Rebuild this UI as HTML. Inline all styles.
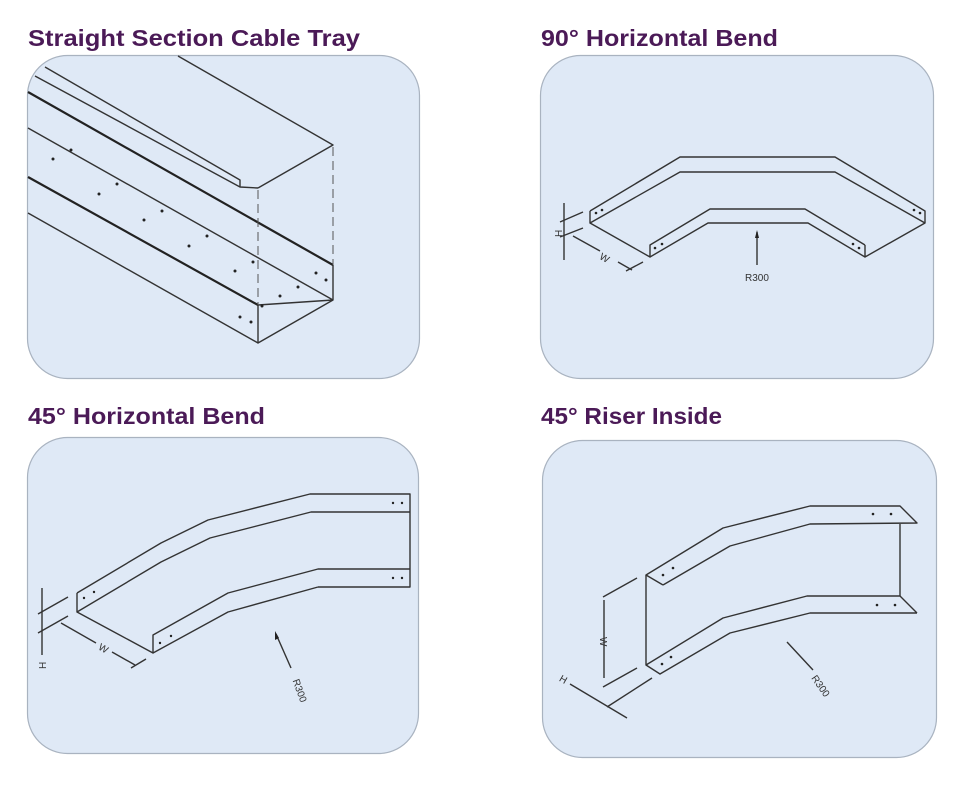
<!DOCTYPE html>
<html><head><meta charset="utf-8"><style>
html,body{margin:0;padding:0;background:#fff;}
svg{display:block;}
.t{font-family:"Liberation Sans",sans-serif;font-weight:bold;font-size:23px;fill:#4b1a57;}
.l{fill:none;stroke:#333;stroke-width:1.4;stroke-linejoin:round;}
.b{fill:none;stroke:#222;stroke-width:2.2;}
.d{fill:#222;}
.s{font-family:"Liberation Sans",sans-serif;font-size:10px;fill:#333;}
</style></head><body>
<svg width="975" height="798" viewBox="0 0 975 798">
<rect width="975" height="798" fill="#fff"/>
<g fill="#dfe9f6" stroke="#a9b3c0" stroke-width="1.2">
<rect x="27.5" y="55.5" width="392" height="323" rx="40"/>
<rect x="540.5" y="55.5" width="393" height="323" rx="40"/>
<rect x="27.5" y="437.5" width="391" height="316" rx="40"/>
<rect x="542.5" y="440.5" width="394" height="317" rx="40"/>
</g>
<text class="t" x="28" y="46" textLength="332" lengthAdjust="spacingAndGlyphs">Straight Section Cable Tray</text>
<text class="t" x="541" y="46" textLength="237" lengthAdjust="spacingAndGlyphs">90° Horizontal Bend</text>
<text class="t" x="28" y="424" textLength="237" lengthAdjust="spacingAndGlyphs">45° Horizontal Bend</text>
<text class="t" x="541" y="424" textLength="181" lengthAdjust="spacingAndGlyphs">45° Riser Inside</text>

<!-- Panel 1 -->
<polyline class="l" points="178,56 333,145 258,188"/>
<polyline class="l" points="45,67 240,180 240,187"/>
<polyline class="l" points="35,76 240,187 258,188"/>
<line class="b" x1="28" y1="92" x2="333" y2="265"/>
<line class="l" x1="28" y1="128" x2="333" y2="300"/>
<line class="b" x1="28" y1="177" x2="258" y2="305"/>
<line class="l" x1="28" y1="213" x2="258" y2="343"/>
<polyline class="l" points="258,305 258,343 333,300 333,265"/>
<line class="l" x1="258" y1="305" x2="333" y2="300"/>
<line x1="258" y1="190" x2="258" y2="305" stroke="#555" stroke-width="1" stroke-dasharray="9,5"/>
<line x1="333" y1="147" x2="333" y2="265" stroke="#555" stroke-width="1" stroke-dasharray="9,5"/>
<g class="d">
<circle cx="53" cy="159" r="1.5"/><circle cx="71" cy="150" r="1.5"/><circle cx="99" cy="194" r="1.5"/><circle cx="117" cy="184" r="1.5"/>
<circle cx="144" cy="220" r="1.5"/><circle cx="162" cy="211" r="1.5"/><circle cx="189" cy="246" r="1.5"/><circle cx="207" cy="236" r="1.5"/>
<circle cx="235" cy="271" r="1.5"/><circle cx="253" cy="262" r="1.5"/><circle cx="280" cy="296" r="1.5"/><circle cx="298" cy="287" r="1.5"/>
<circle cx="316" cy="273" r="1.5"/><circle cx="326" cy="280" r="1.5"/><circle cx="240" cy="317" r="1.5"/><circle cx="251" cy="322" r="1.5"/><circle cx="262" cy="306" r="1.5"/>
</g>

<!-- Panel 2 -->
<polyline class="l" points="590,211 680,157 835,157 925,211 925,223 865,257 865,245"/>
<polyline class="l" points="590,211 590,223 680,172 835,172 925,223"/>
<polyline class="l" points="590,223 650,257 650,245 710,209 805,209 865,245"/>
<polyline class="l" points="650,257 708,223 808,223 865,257"/>
<g class="d"><circle cx="596" cy="213" r="1.3"/><circle cx="602" cy="210" r="1.3"/><circle cx="655" cy="248" r="1.3"/><circle cx="662" cy="244" r="1.3"/><circle cx="914" cy="210" r="1.3"/><circle cx="920" cy="213" r="1.3"/><circle cx="853" cy="244" r="1.3"/><circle cx="859" cy="248" r="1.3"/></g>
<line class="l" x1="757" y1="232" x2="757" y2="265"/><polygon class="d" points="757,230 755,238 759,238"/>
<text class="s" x="745" y="281">R300</text>
<line class="l" x1="564" y1="203" x2="564" y2="260"/>
<line class="l" x1="560" y1="222" x2="583" y2="212"/><line class="l" x1="560" y1="237" x2="583" y2="228"/>
<text class="s" x="553" y="236" transform="rotate(-90 558 232)">H</text>
<polyline class="l" points="573,236 600,251"/><polyline class="l" points="618,262 632,270"/><line class="l" x1="626" y1="271" x2="643" y2="262"/>
<text class="s" x="600" y="262" transform="rotate(30 606 258)">W</text>

<!-- Panel 3 -->
<polyline class="l" points="77,593 161,543 208,520 310,494 410,494 410,587 318,587"/>
<polyline class="l" points="77,593 77,612 161,562 210,538 311,512 410,512"/>
<polyline class="l" points="77,612 153,653 153,635 228,593 318,569 410,569"/>
<polyline class="l" points="153,653 228,612 318,587"/>
<g class="d"><circle cx="84" cy="598" r="1.2"/><circle cx="94" cy="592" r="1.2"/><circle cx="160" cy="643" r="1.2"/><circle cx="171" cy="636" r="1.2"/><circle cx="393" cy="503" r="1.2"/><circle cx="402" cy="503" r="1.2"/><circle cx="393" cy="578" r="1.2"/><circle cx="402" cy="578" r="1.2"/></g>
<line class="l" x1="42" y1="588" x2="42" y2="655"/>
<line class="l" x1="38" y1="614" x2="68" y2="597"/><line class="l" x1="38" y1="633" x2="68" y2="616"/>
<text class="s" x="37" y="668" transform="rotate(-90 42 664)">H</text>
<line class="l" x1="61" y1="623" x2="96" y2="643"/><line class="l" x1="112" y1="652" x2="135" y2="665"/><line class="l" x1="131" y1="668" x2="146" y2="659"/>
<text class="s" x="99" y="652" transform="rotate(30 104 648)">W</text>
<line class="l" x1="276" y1="634" x2="291" y2="668"/><polygon class="d" points="275,631 275,640 279,638"/>
<text class="s" x="290" y="690" transform="rotate(70 298 687)">R300</text>

<!-- Panel 4 -->
<polyline class="l" points="663,585 646,575 723,528 810,506 900,506 917,523 810,524 730,546 663,585"/>
<polyline class="l" points="646,575 646,665 723,618 807,596 900,596 917,613"/>
<polyline class="l" points="646,665 660,674 730,633 810,613 917,613"/>
<line class="l" x1="900" y1="524" x2="900" y2="596"/>
<g class="d"><circle cx="663" cy="575" r="1.3"/><circle cx="673" cy="568" r="1.3"/><circle cx="662" cy="664" r="1.3"/><circle cx="671" cy="657" r="1.3"/><circle cx="873" cy="514" r="1.3"/><circle cx="891" cy="514" r="1.3"/><circle cx="877" cy="605" r="1.3"/><circle cx="895" cy="605" r="1.3"/></g>
<line class="l" x1="603" y1="597" x2="637" y2="578"/><line class="l" x1="603" y1="687" x2="637" y2="668"/><line class="l" x1="607" y1="707" x2="652" y2="678"/>
<line class="l" x1="604" y1="600" x2="604" y2="678"/>
<text class="s" x="599" y="646" transform="rotate(90 604 642)">W</text>
<line class="l" x1="570" y1="684" x2="627" y2="718"/>
<text class="s" x="560" y="683" transform="rotate(30 564 679)">H</text>
<line class="l" x1="787" y1="642" x2="813" y2="670"/>
<text class="s" x="810" y="688" transform="rotate(55 820 684)">R300</text>
</svg>
</body></html>
